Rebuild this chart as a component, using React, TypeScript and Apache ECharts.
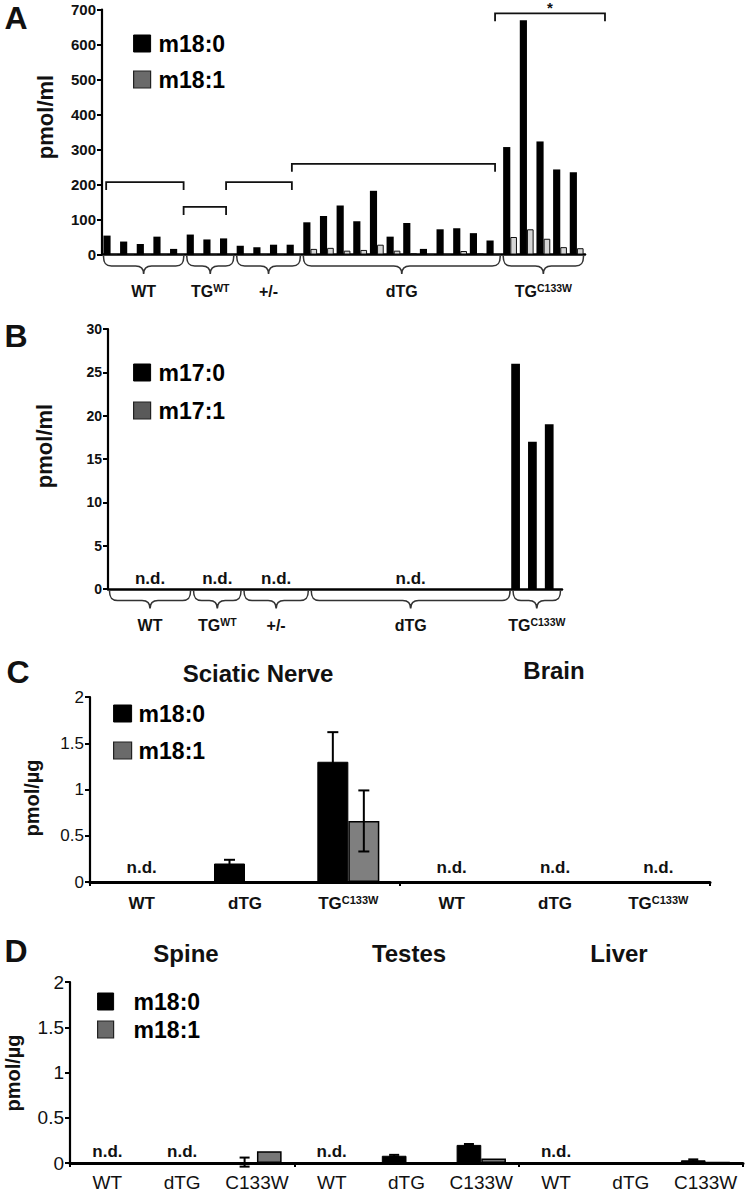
import React, { useEffect, useRef } from 'react';
import * as echarts from 'echarts';

const FONT = '"Liberation Sans", Arial, Helvetica, sans-serif';

// ---------- Panel A (plasma m18 species, pmol/ml) ----------
const aCategories = [
  'WT1', 'WT2', 'WT3', 'WT4', 'WT5',
  'TGWT1', 'TGWT2', 'TGWT3',
  'Het1', 'Het2', 'Het3', 'Het4',
  'dTG1', 'dTG2', 'dTG3', 'dTG4', 'dTG5', 'dTG6', 'dTG7', 'dTG8', 'dTG9', 'dTG10', 'dTG11', 'dTG12',
  'C133W1', 'C133W2', 'C133W3', 'C133W4', 'C133W5',
];
const aGroupNames = ['WT', 'TG^WT', '+/-', 'dTG', 'TG^C133W'];
const aGroupSizes = [5, 3, 4, 12, 5];
const aM180 = [54, 37, 30, 51, 16, 57, 43, 46, 25, 21, 28, 28, 92, 110, 140, 95, 182, 51, 90, 16, 72, 75, 61, 40, 307, 669, 323, 243, 235];
const aM181 = [0, 0, 0, 0, 0, 0, 0, 0, 0, 0, 0, 0, 16, 19, 11, 13, 28, 11, 3, 0, 0, 10, 2, 0, 50, 72, 45, 21, 18];
const aBracketSpans = [[-0.25, 4.4], [4.4, 6.95], [6.95, 10.9], [10.9, 23.1], [23.1, 29.7]];
const aBracketLevels = [207, 136, 207, 259, 689];
const aBracketMarks = ['', '', '', '', '*'];

// ---------- Panel B (plasma m17 species, pmol/ml) ----------
const bCategories = [
  'WT1', 'WT2', 'WT3', 'WT4', 'WT5',
  'TGWT1', 'TGWT2', 'TGWT3',
  'Het1', 'Het2', 'Het3', 'Het4',
  'dTG1', 'dTG2', 'dTG3', 'dTG4', 'dTG5', 'dTG6', 'dTG7', 'dTG8', 'dTG9', 'dTG10', 'dTG11', 'dTG12',
  'C133W1', 'C133W2', 'C133W3',
];
const bGroupNames = ['WT', 'TG^WT', '+/-', 'dTG', 'TG^C133W'];
const bGroupSizes = [5, 3, 4, 12, 3];
const bM170 = [null, null, null, null, null, null, null, null, null, null, null, null, null, null, null, null, null, null, null, null, null, null, null, null, 26, 17, 19];
const bM171 = [null, null, null, null, null, null, null, null, null, null, null, null, null, null, null, null, null, null, null, null, null, null, null, null, 0, 0, 0];

// ---------- Panel C (tissues, pmol/µg) ----------
const cTissues = ['Sciatic Nerve', 'Brain'];
const cCategories = ['WT', 'dTG', 'TG^C133W', 'WT', 'dTG', 'TG^C133W'];
const cM180 = [null, 0.2, 1.3, null, null, null];
const cM180Err = [null, 0.04, 0.32, null, null, null];
const cM181 = [null, 0, 0.66, null, null, null];
const cM181Err = [null, null, 0.33, null, null, null];

// ---------- Panel D (tissues, pmol/µg) ----------
const dTissues = ['Spine', 'Testes', 'Liver'];
const dCategories = ['WT', 'dTG', 'C133W', 'WT', 'dTG', 'C133W', 'WT', 'dTG', 'C133W'];
const dM180 = [null, null, 0.01, null, 0.08, 0.2, null, 0.01, 0.03];
const dM180Err = [null, null, 0.05, null, 0.01, 0.01, null, null, 0.01];
const dM181 = [null, null, 0.13, null, 0, 0.05, null, 0, 0.01];
const dM181Err = [null, null, null, null, null, null, null, null, null];

const yTicksA = { min: 0, max: 700, interval: 100 };
const yTicksB = { min: 0, max: 30, interval: 5 };
const yTicksCD = { min: 0, max: 2, interval: 0.5 };

// ---------- helpers ----------
function groupRanges(sizes: number[]) {
  let s = 0;
  return sizes.map((n) => {
    const r = [s, 0, s + n - 1];
    s += n;
    return r;
  });
}

function richName(name: string) {
  const [main, sup] = name.split('^');
  return sup ? `{b|${main}}{s|${sup}}` : `{b|${main}}`;
}

function braceSeries(idx: number, sizes: number[], names: string[]) {
  return {
    type: 'custom',
    xAxisIndex: idx,
    yAxisIndex: idx,
    silent: true,
    z: 6,
    encode: { x: 0, y: 1 },
    data: groupRanges(sizes),
    renderItem: (params: any, api: any) => {
      const a = api.coord([api.value(0), 0]);
      const b = api.coord([api.value(2), 0]);
      const cw = api.size([1, 0])[0];
      const x1 = a[0] - cw / 2 + 1.5;
      const x2 = b[0] + cw / 2 - 1.5;
      const y0 = a[1] + 1.5;
      const xm = (x1 + x2) / 2;
      const r = Math.min(8, (x2 - x1) / 5);
      const d =
        `M${x1},${y0} C${x1},${y0 + 7} ${x1 + 2},${y0 + 10} ${x1 + r},${y0 + 10} ` +
        `L${xm - r},${y0 + 10} C${xm - 3},${y0 + 10} ${xm},${y0 + 12} ${xm},${y0 + 18} ` +
        `C${xm},${y0 + 12} ${xm + 3},${y0 + 10} ${xm + r},${y0 + 10} ` +
        `L${x2 - r},${y0 + 10} C${x2 - 2},${y0 + 10} ${x2},${y0 + 7} ${x2},${y0}`;
      return {
        type: 'group',
        children: [
          {
            type: 'path',
            shape: { pathData: d },
            style: { fill: 'none', stroke: '#333', lineWidth: 1.6 },
          },
          {
            type: 'text',
            x: xm,
            y: y0 + 35,
            style: {
              text: richName(names[params.dataIndex]),
              align: 'center',
              verticalAlign: 'middle',
              rich: {
                b: { fontSize: 16, fontWeight: 'bold', fontFamily: FONT, fill: '#111', lineHeight: 18 },
                s: { fontSize: 10.5, fontWeight: 'bold', fontFamily: FONT, fill: '#111', verticalAlign: 'top' },
              },
            },
          },
        ],
      };
    },
  };
}

function bracketSeries() {
  return {
    type: 'custom',
    xAxisIndex: 0,
    yAxisIndex: 0,
    silent: true,
    z: 6,
    encode: { x: 0, y: 1 },
    data: aBracketLevels.map((lv, i) => [0, lv, aBracketSpans[i][0], aBracketSpans[i][1]]),
    renderItem: (params: any, api: any) => {
      const base = api.coord([0, api.value(1)]);
      const cw = api.size([1, 0])[0];
      const x1 = base[0] + api.value(2) * cw;
      const x2 = base[0] + api.value(3) * cw;
      const y = base[1];
      const children: any[] = [
        {
          type: 'polyline',
          shape: { points: [[x1, y + 8], [x1, y], [x2, y], [x2, y + 8]] },
          style: { fill: 'none', stroke: '#111', lineWidth: 1.8 },
        },
      ];
      const mark = aBracketMarks[params.dataIndex];
      if (mark) {
        children.push({
          type: 'text',
          x: (x1 + x2) / 2,
          y: Math.max(0, y - 13),
          style: { text: mark, align: 'center', verticalAlign: 'top', fontSize: 15, fontWeight: 'bold', fontFamily: FONT, fill: '#111' },
        });
      }
      return { type: 'group', children };
    },
  };
}

function ndSeries(idx: number, items: number[][], dy: number) {
  return {
    type: 'custom',
    xAxisIndex: idx,
    yAxisIndex: idx,
    silent: true,
    z: 6,
    encode: { x: 0, y: 1 },
    data: items,
    renderItem: (params: any, api: any) => {
      const a = api.coord([api.value(0), 0]);
      const b = api.coord([api.value(2), 0]);
      return {
        type: 'text',
        x: (a[0] + b[0]) / 2,
        y: a[1] - dy,
        style: { text: 'n.d.', align: 'center', verticalAlign: 'middle', fontSize: 17, fontWeight: 'bold', fontFamily: FONT, fill: '#111' },
      };
    },
  };
}

function errorSeries(idx: number, vals: (number | null)[], errs: (number | null)[], side: number, pct: number, capW: number) {
  const data: number[][] = [];
  vals.forEach((v, i) => {
    const e = errs[i];
    if (v != null && e != null && e > 0) data.push([i, v - e, v + e]);
  });
  return {
    type: 'custom',
    xAxisIndex: idx,
    yAxisIndex: idx,
    silent: true,
    z: 5,
    encode: { x: 0, y: [1, 2] },
    data,
    renderItem: (params: any, api: any) => {
      const lo = api.coord([api.value(0), api.value(1)]);
      const hi = api.coord([api.value(0), api.value(2)]);
      const cw = api.size([1, 0])[0];
      const x = lo[0] + side * cw * pct / 2;
      const st = { stroke: '#000', lineWidth: 2 };
      return {
        type: 'group',
        children: [
          { type: 'line', shape: { x1: x, y1: lo[1], x2: x, y2: hi[1] }, style: st },
          { type: 'line', shape: { x1: x - capW / 2, y1: hi[1], x2: x + capW / 2, y2: hi[1] }, style: st },
          { type: 'line', shape: { x1: x - capW / 2, y1: lo[1], x2: x + capW / 2, y2: lo[1] }, style: st },
        ],
      };
    },
  };
}

function ndGroups(sizes: number[], vals: (number | null)[]) {
  return groupRanges(sizes).filter((g) => vals.slice(g[0], g[2] + 1).every((v) => v == null));
}

function ndCats(vals: (number | null)[]) {
  const out: number[][] = [];
  vals.forEach((v, i) => {
    if (v == null) out.push([i, 0, i]);
  });
  return out;
}

const axisLineStyle = (w: number) => ({ show: true, lineStyle: { color: '#000', width: w } });

function yAxis(idx: number, ticks: any, fontSize: number, bold: boolean) {
  return {
    type: 'value',
    gridIndex: idx,
    ...ticks,
    axisLine: axisLineStyle(2.2),
    axisTick: { show: true, length: 5, lineStyle: { color: '#000', width: 2 } },
    axisLabel: { fontSize, fontWeight: bold ? 'bold' : 'normal', fontFamily: FONT, color: '#111', margin: 6 },
    splitLine: { show: false },
  };
}

const legendItems = (n0: string, n1: string, grey: string) => [
  { name: n0, itemStyle: { color: '#000', borderColor: '#000', borderWidth: 1 } },
  { name: n1, itemStyle: { color: grey, borderColor: '#222', borderWidth: 1.2 } },
];

function legend(left: number, top: number, gap: number, data: any[], textPad: number, iw = 17) {
  return {
    left,
    top,
    orient: 'vertical',
    icon: 'rect',
    itemWidth: iw,
    itemHeight: 17,
    itemGap: gap,
    selectedMode: false,
    data,
    textStyle: { fontSize: 23, fontWeight: 'bold', fontFamily: FONT, color: '#000', padding: [0, 0, 0, textPad] },
  };
}

function gtext(text: string, x: number, y: number, fontSize: number, rotate = false) {
  return {
    type: 'text',
    x,
    y,
    rotation: rotate ? Math.PI / 2 : 0,
    style: { text, fontSize, fontWeight: 'bold', fontFamily: FONT, fill: '#111', align: 'center', verticalAlign: 'middle' },
  };
}

function buildOption() {
  const tissueTitles: any[] = [];
  const cTitlePos = [[258, 673], [554, 670]];
  cTissues.forEach((t, i) => tissueTitles.push(gtext(t, cTitlePos[i][0], cTitlePos[i][1], 24)));
  const dTitlePos = [[186, 953], [409, 953], [619, 953]];
  dTissues.forEach((t, i) => tissueTitles.push(gtext(t, dTitlePos[i][0], dTitlePos[i][1], 24)));

  const catRich = {
    b: { fontSize: 17, fontWeight: 'bold', fontFamily: FONT, color: '#111', lineHeight: 19 },
    s: { fontSize: 11, fontWeight: 'bold', fontFamily: FONT, color: '#111', verticalAlign: 'top' },
  };

  return {
    animation: false,
    backgroundColor: '#fff',
    grid: [
      { left: 102, top: 9.5, width: 483, height: 245 },
      { left: 108, top: 329, width: 454, height: 260 },
      { left: 90, top: 697, width: 620, height: 185 },
      { left: 70, top: 982, width: 673, height: 181 },
    ],
    xAxis: [
      { type: 'category', gridIndex: 0, data: aCategories, axisLine: axisLineStyle(2.5), axisTick: { show: false }, axisLabel: { show: false } },
      { type: 'category', gridIndex: 1, data: bCategories, axisLine: axisLineStyle(2.5), axisTick: { show: false }, axisLabel: { show: false } },
      {
        type: 'category', gridIndex: 2, data: cCategories,
        axisLine: axisLineStyle(3),
        axisTick: { show: true, interval: (i: number) => i % 3 === 0, length: 4, lineStyle: { color: '#000', width: 2 } },
        axisLabel: { interval: 0, margin: 12, formatter: (v: string) => richName(v), rich: catRich },
      },
      {
        type: 'category', gridIndex: 3, data: dCategories,
        axisLine: axisLineStyle(3),
        axisTick: { show: true, interval: (i: number) => i % 3 === 0, length: 4, lineStyle: { color: '#000', width: 2 } },
        axisLabel: { interval: 0, margin: 10, fontSize: 19, fontFamily: FONT, color: '#111' },
      },
    ],
    yAxis: [
      yAxis(0, yTicksA, 15, true),
      yAxis(1, yTicksB, 14, true),
      yAxis(2, yTicksCD, 17, false),
      yAxis(3, yTicksCD, 19, false),
    ],
    legend: [
      legend(128, 27, 13, legendItems('m18:0', 'm18:1', '#6a6a6a'), 3),
      legend(128, 356, 15, legendItems('m17:0', 'm17:1', '#5a5a5a'), 3),
      legend(108, 697, 14, legendItems('m18:0', 'm18:1', '#6a6a6a'), 2, 18),
      legend(92, 985, 5, legendItems('m18:0', 'm18:1', '#6a6a6a'), 15, 16),
    ],
    graphic: [
      gtext('A', 16, 18, 32),
      gtext('B', 16, 336, 32),
      gtext('C', 18, 672, 32),
      gtext('D', 16, 951, 32),
      gtext('pmol/ml', 45, 117, 22, true),
      gtext('pmol/ml', 44, 446, 22, true),
      gtext('pmol/µg', 32, 798, 20, true),
      gtext('pmol/µg', 13, 1073, 20, true),
      ...tissueTitles,
    ],
    series: [
      // A
      { name: 'm18:0', type: 'bar', xAxisIndex: 0, yAxisIndex: 0, data: aM180, barWidth: '43%', barGap: '0%', itemStyle: { color: '#000' } },
      { name: 'm18:1', type: 'bar', xAxisIndex: 0, yAxisIndex: 0, data: aM181, barWidth: '40%', barGap: '0%', itemStyle: { color: '#d6d6d6', borderColor: '#111', borderWidth: 1 } },
      braceSeries(0, aGroupSizes, aGroupNames),
      bracketSeries(),
      // B
      { name: 'm17:0', type: 'bar', xAxisIndex: 1, yAxisIndex: 1, data: bM170, barWidth: '52%', barGap: '0%', itemStyle: { color: '#000' } },
      { name: 'm17:1', type: 'bar', xAxisIndex: 1, yAxisIndex: 1, data: bM171, barWidth: '52%', barGap: '0%', itemStyle: { color: '#5a5a5a' } },
      braceSeries(1, bGroupSizes, bGroupNames),
      ndSeries(1, ndGroups(bGroupSizes, bM170), 11),
      // C
      { name: 'm18:0', type: 'bar', xAxisIndex: 2, yAxisIndex: 2, data: cM180, barWidth: '30%', barGap: '0%', itemStyle: { color: '#000', borderColor: '#000', borderWidth: 1 } },
      { name: 'm18:1', type: 'bar', xAxisIndex: 2, yAxisIndex: 2, data: cM181, barWidth: '30%', barGap: '0%', itemStyle: { color: '#7f7f7f', borderColor: '#000', borderWidth: 1.5 } },
      errorSeries(2, cM180, cM180Err, -1, 0.3, 11),
      errorSeries(2, cM181, cM181Err, 1, 0.3, 11),
      ndSeries(2, ndCats(cM180), 15),
      // D
      { name: 'm18:0', type: 'bar', xAxisIndex: 3, yAxisIndex: 3, data: dM180, barWidth: '33%', barGap: '0%', itemStyle: { color: '#000', borderColor: '#000', borderWidth: 1 } },
      { name: 'm18:1', type: 'bar', xAxisIndex: 3, yAxisIndex: 3, data: dM181, barWidth: '33%', barGap: '0%', itemStyle: { color: '#777', borderColor: '#000', borderWidth: 1.5 } },
      errorSeries(3, dM180, dM180Err, -1, 0.33, 10),
      errorSeries(3, dM181, dM181Err, 1, 0.33, 10),
      ndSeries(3, ndCats(dM180), 12),
    ],
  };
}

export default function App() {
  const ref = useRef<HTMLDivElement>(null);
  useEffect(() => {
    document.body.style.margin = '0';
    const chart = echarts.init(ref.current as HTMLDivElement, null, { renderer: 'svg' });
    chart.setOption(buildOption() as any);
    return () => chart.dispose();
  }, []);
  return <div ref={ref} style={{ width: 746, height: 1200, background: '#fff' }} />;
}
